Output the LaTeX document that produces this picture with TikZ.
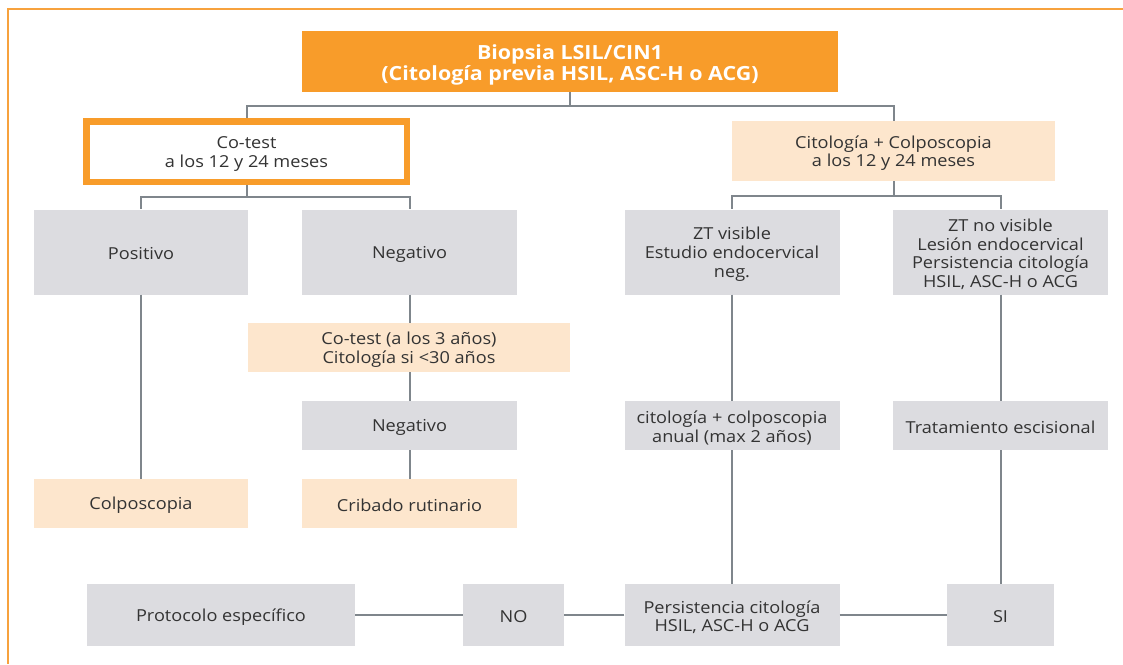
\documentclass[tikz,border=0pt]{standalone}
\usepackage{fontspec}
\setmainfont{Open Sans}[FakeStretch=1.1]
\definecolor{orangeC}{HTML}{F89C2A}
\definecolor{frameC}{HTML}{F7A23E}
\definecolor{grayfill}{HTML}{DCDCE0}
\definecolor{peach}{HTML}{FDE6CD}
\definecolor{lineC}{HTML}{7F868C}
\definecolor{txtC}{HTML}{333333}
\newcommand\upA{\rule{0pt}{16pt}}
\newcommand\upB{\rule{0pt}{17pt}}
\newcommand\upT{\rule{0pt}{22pt}}
\begin{document}
\begin{tikzpicture}[x=1pt,y=-1pt,
  base/.style={inner sep=0pt, align=center, text=txtC, font=\fontsize{16.5}{18.6}\selectfont},
  graybox/.style={base, fill=grayfill},
  peachbox/.style={base, fill=peach},
  conn/.style={draw=lineC, line width=2pt}]
\useasboundingbox (0,0) rectangle (1123,664);
% frame
\draw[frameC, line width=1.6pt] (8,664) -- (8,9) -- (1123,9);
% nodes
\node[base, fill=orangeC, text=white, font=\bfseries\fontsize{19.5}{18.4}\selectfont,
  minimum width=536pt, minimum height=61pt] (top) at (570,61.5)
  {\upT Biopsia LSIL/CIN1\\(Citología previa HSIL, ASC-H o ACG)};
\node[base, fill=white, draw=orangeC, line width=6.5pt,
  minimum width=320.5pt, minimum height=60.5pt] (cot) at (246.5,151.5)
  {\upB Co-test\\a los 12 y 24 meses};
\node[peachbox, minimum width=323pt, minimum height=60pt] (cit) at (893.5,151)
  {\upB Citología + Colposcopia\\a los 12 y 24 meses};
\node[graybox, minimum width=214pt, minimum height=85pt] (pos) at (141,252) {\upA Positivo};
\node[graybox, minimum width=215pt, minimum height=85pt] (neg) at (409.5,252) {\upA Negativo};
\node[graybox, minimum width=215pt, minimum height=85pt] (zt1) at (732,252)
  {\upB ZT visible\\Estudio endocervical\\neg.};
\node[graybox, minimum width=215pt, minimum height=85pt] (zt2) at (1000.5,252)
  {\upB ZT no visible\\Lesión endocervical\\Persistencia citología\\HSIL, ASC-H o ACG};
\node[peachbox, minimum width=322pt, minimum height=49pt] (cot3) at (409,347.5)
  {\upB Co-test (a los 3 años)\\Citología si <30 años};
\node[graybox, minimum width=215pt, minimum height=49pt] (neg2) at (409.5,425.5) {\upA Negativo};
\node[graybox, minimum width=215pt, minimum height=49pt] (anual) at (732,425.5)
  {\upB citología + colposcopia\\anual (max 2 años)};
\node[graybox, minimum width=215pt, minimum height=49pt] (trat) at (1000.5,425.5)
  {\upA Tratamiento escisional};
\node[peachbox, minimum width=214pt, minimum height=49pt] (colp) at (141,503.5) {\upA Colposcopia};
\node[peachbox, minimum width=215pt, minimum height=49pt] (crib) at (409.5,503.5) {\upA Cribado rutinario};
\node[graybox, minimum width=215pt, minimum height=62pt] (per) at (732,615)
  {\upB Persistencia citología\\HSIL, ASC-H o ACG};
\node[graybox, minimum width=107pt, minimum height=62pt] (si) at (1000.5,615) {\upA SI};
\node[graybox, minimum width=101pt, minimum height=62pt] (no) at (513.5,615) {\upA NO};
\node[graybox, minimum width=268pt, minimum height=62pt] (prot) at (221,615) {\upA Protocolo específico};
% connectors
\draw[conn] (top.south) -- ++(0,14) coordinate (j1);
\draw[conn] (j1) -| (cot.north);
\draw[conn] (j1) -| (cit.north);
\draw[conn] (cot.south) -- ++(0,12) coordinate (j2);
\draw[conn] (j2) -| (pos.north);
\draw[conn] (j2) -| (neg.north);
\draw[conn] (cit.south) -- ++(0,15) coordinate (j3);
\draw[conn] (j3) -| (zt1.north);
\draw[conn] (j3) -| (zt2.north);
\draw[conn] (pos.south) -- (colp.north);
\draw[conn] (neg.south) -- (cot3.north -| neg.south);
\draw[conn] (cot3.south -| neg2.north) -- (neg2.north);
\draw[conn] (neg2.south) -- (crib.north);
\draw[conn] (zt1.south) -- (anual.north);
\draw[conn] (anual.south) -- (per.north);
\draw[conn] (zt2.south) -- (trat.north);
\draw[conn] (trat.south) -- (si.north);
\draw[conn] (per.west) -- (no.east);
\draw[conn] (no.west) -- (prot.east);
\draw[conn] (per.east) -- (si.west);
\end{tikzpicture}
\end{document}
